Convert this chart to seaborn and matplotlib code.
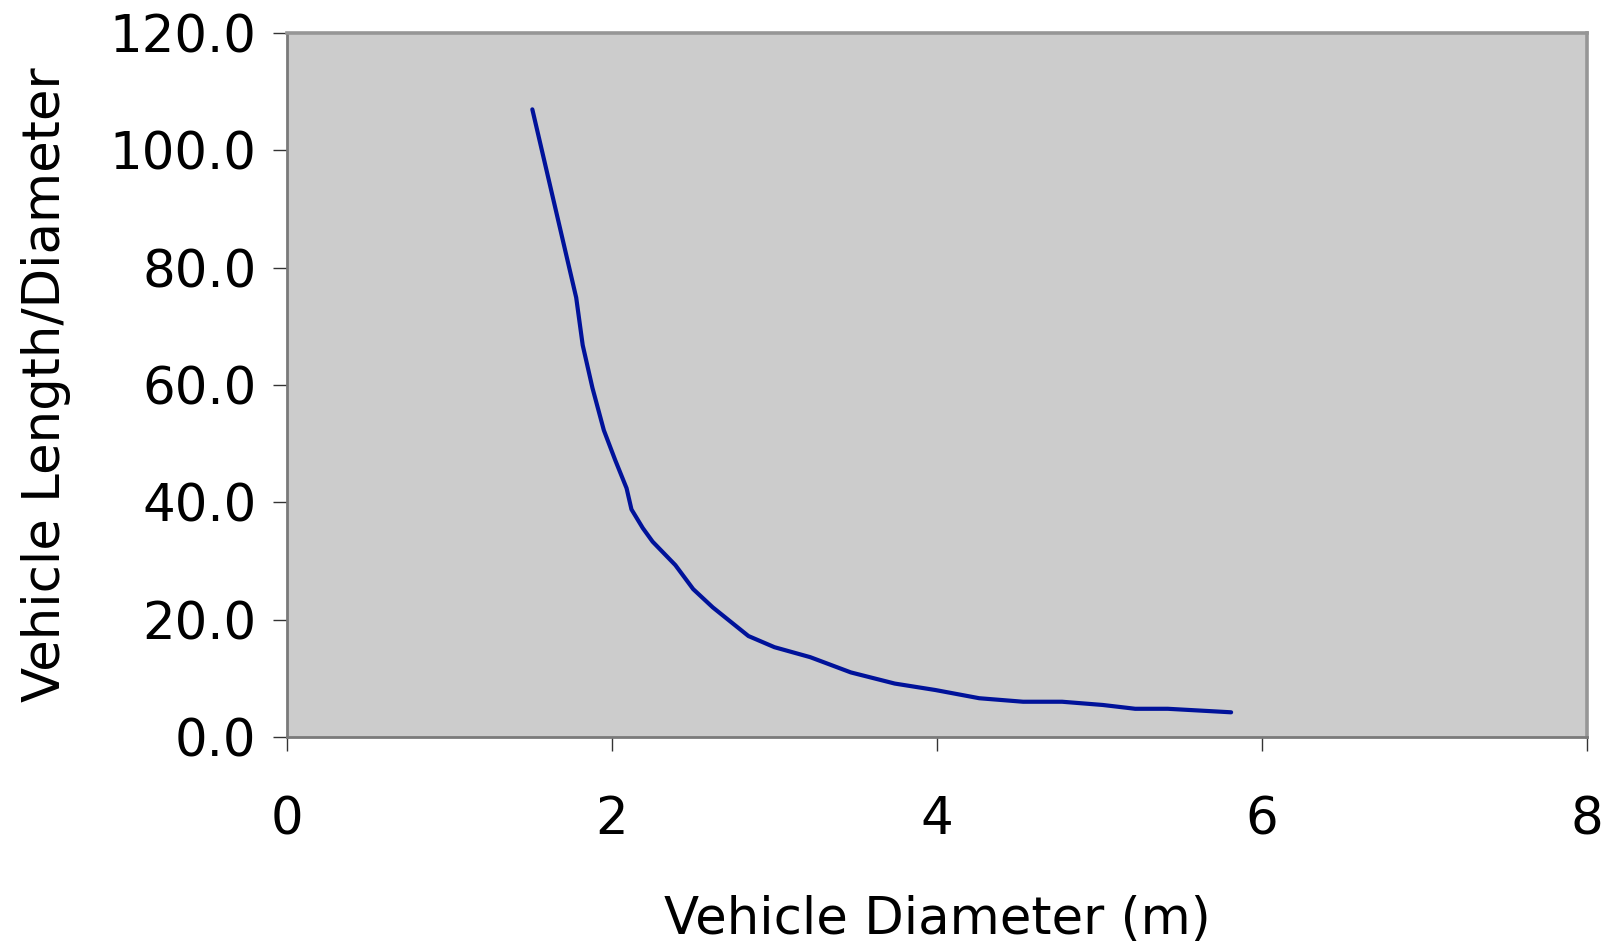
import matplotlib
matplotlib.use("Agg")
import matplotlib.pyplot as plt
import seaborn as sns
import pandas as pd

diameter = [1.51, 1.78, 1.82, 1.88, 1.95, 2.02, 2.09, 2.12, 2.19, 2.25, 2.39, 2.50,
            2.62, 2.84, 3.00, 3.22, 3.47, 3.74, 3.99, 4.26, 4.53, 4.77, 5.02, 5.22, 5.42, 5.81]
length_ratio = [107.0, 74.9, 66.8, 59.5, 52.3, 47.2, 42.4, 38.8, 35.6, 33.3, 29.3, 25.2,
                22.1, 17.2, 15.3, 13.6, 11.0, 9.1, 8.0, 6.6, 6.0, 6.0, 5.45, 4.8, 4.8, 4.2]
x_ticks = [0, 2, 4, 6, 8]
y_ticks = [0, 20, 40, 60, 80, 100, 120]

df = pd.DataFrame({"d": diameter, "r": length_ratio})

sns.set_style("white")
plt.rcParams['font.family'] = ['DejaVu Sans']

fig = plt.figure(figsize=(16.12, 9.46), dpi=100)
ax = fig.add_axes([0.178, 0.221, 0.8065, 0.744])
ax.set_facecolor("#cccccc")

sns.lineplot(data=df, x="d", y="r", sort=False, estimator=None, ax=ax,
             color="#00129a", linewidth=3.0)

ax.set_xlim(0, 8)
ax.set_ylim(0, 120)
ax.set_xticks(x_ticks)
ax.set_xticklabels([str(t) for t in x_ticks])
ax.set_yticks(y_ticks)
ax.set_yticklabels([f"{t:.1f}" for t in y_ticks])

for name, s in ax.spines.items():
    s.set_visible(True)
    if name in ("top", "right"):
        s.set_color("#969696")
        s.set_linewidth(2.6)
    else:
        s.set_color("#7a7a7a")
        s.set_linewidth(2.0)

ax.tick_params(axis="both", which="major", direction="out", length=10, width=1.0,
               color="#333333", labelsize=37, labelcolor="black",
               bottom=True, left=True)
ax.tick_params(axis="x", pad=32)
ax.tick_params(axis="y", pad=12)

ax.set_xlabel("Vehicle Diameter (m)", fontsize=37, labelpad=36, color="black")
ax.set_ylabel("Vehicle Length/Diameter", fontsize=37, labelpad=28, color="black")

fig.savefig("out.png", dpi=100)
